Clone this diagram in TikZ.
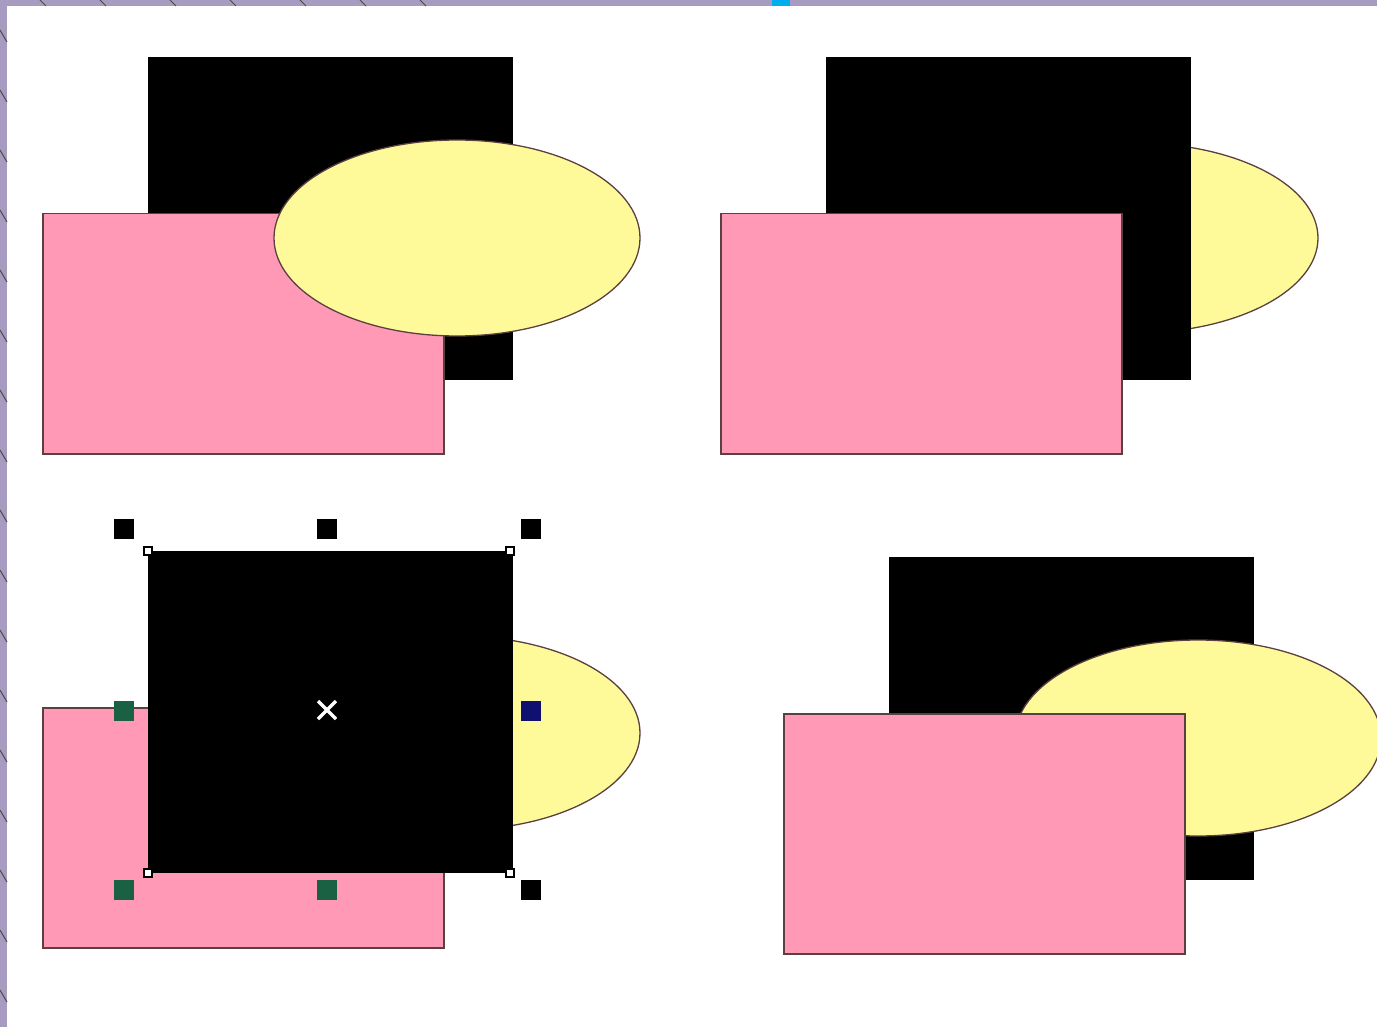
\documentclass[tikz,border=0pt]{standalone}
\begin{document}
\begin{tikzpicture}[x=1pt,y=-1pt,
  blk/.style={fill=black,draw=none,minimum width=365pt,minimum height=323pt,inner sep=0pt,anchor=north west},
  pnk/.style={fill=pinkfill,draw=edge,line width=1.5pt,minimum width=401pt,minimum height=240pt,inner sep=0pt,anchor=north west},
  yel/.style={fill=yellowfill,draw=edge,line width=1.3pt},
  handle/.style={minimum size=20pt,inner sep=0pt,outer sep=0pt},
  corner/.style={fill=white,draw=black,line width=1.2pt,minimum size=8pt,inner sep=0pt},
  deco/.style={draw=decoline,line width=1pt}]
\definecolor{purpleframe}{HTML}{A89BC2}
\definecolor{pinkfill}{HTML}{FF99B6}
\definecolor{yellowfill}{HTML}{FFFA99}
\definecolor{edge}{HTML}{5A4040}
\definecolor{decoline}{HTML}{4A4A40}
\definecolor{hgreen}{HTML}{1A6042}
\definecolor{hnavy}{HTML}{101070}
\useasboundingbox (0,0) rectangle (1377,1027);
% frame
\fill[purpleframe] (0,0) rectangle (1377,1027);
\fill[white] (7,6) rectangle (1377,1027);
\fill[cyan] (772,0) rectangle (790,6);
% decorative strokes in the frame
\foreach \y in {30,90,150,210,270,330,390,450,510,570,630,690,750,810,870,930,990}{
  \draw[deco] (0,\y) -- (7,\y+12);
}
\foreach \x in {40,100,170,230,300,360,420}{
  \draw[deco] (\x,0) -- (\x+6,6);
}
% ===== Panel 1 =====
\node[blk] (b1) at (148,57) {};
\node[pnk] (p1) at (42,213) {};
\draw[yel] (457,238) ellipse [x radius=183, y radius=98];
% ===== Panel 2 =====
\begin{scope}[xshift=678pt]
\draw[yel] (457,238) ellipse [x radius=183, y radius=95];
\node[blk] (b2) at (148,57) {};
\node[pnk] (p2) at (42,213) {};
\end{scope}
% ===== Panel 3 =====
\draw[yel] (457,733) ellipse [x radius=183, y radius=97];
\node[pnk] (p3) at (42,707) {};
\node[blk,minimum height=322pt] (b3) at (148,551) {};
% selection handles
\node[handle,fill=black] (h1) at (124,529) {};
\node[handle,fill=black] (h2) at (327,529) {};
\node[handle,fill=black] (h3) at (531,529) {};
\node[handle,fill=hgreen] (h4) at (124,711) {};
\node[handle,fill=hnavy] (h5) at (531,711) {};
\node[handle,fill=hgreen] (h6) at (124,890) {};
\node[handle,fill=hgreen] (h7) at (327,890) {};
\node[handle,fill=black] (h8) at (531,890) {};
\node[corner] (c1) at (148,551) {};
\node[corner] (c2) at (510,551) {};
\node[corner] (c3) at (148,873) {};
\node[corner] (c4) at (510,873) {};
\draw[white,line width=3.5pt] (318,701) -- (336,719) (318,719) -- (336,701);
% ===== Panel 4 =====
\begin{scope}[xshift=741pt,yshift=-500pt]
\node[blk] (b4) at (148,57) {};
\draw[yel] (457,238) ellipse [x radius=183, y radius=98];
\node[pnk] (p4) at (42,213) {};
\end{scope}
\end{tikzpicture}
\end{document}
